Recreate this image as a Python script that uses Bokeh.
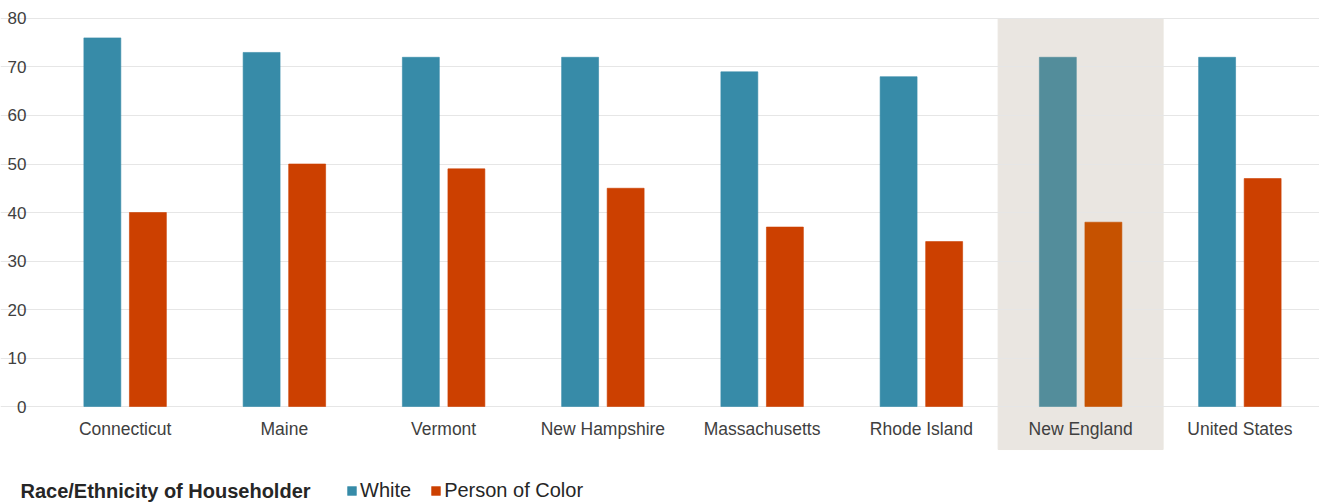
from bokeh.plotting import figure
from bokeh.models import ColumnDataSource, Range1d, Legend, LegendItem, Label, FixedTicker
from bokeh.transform import dodge
from bokeh.embed import file_html
from bokeh.resources import INLINE

# ---- data ----
regions = ["Connecticut", "Maine", "Vermont", "New Hampshire", "Massachusetts",
           "Rhode Island", "New England", "United States"]
white = [76, 73, 72, 72, 69, 68, 72, 72]
person_of_color = [40, 50, 49, 45, 37, 34, 38, 47]
y_ticks = [0, 10, 20, 30, 40, 50, 60, 70, 80]
highlight = "New England"
legend_title = "Race/Ethnicity of Householder"

# ---- styles ----
WHITE_C, WHITE_HL = "#378BA8", "#538D9B"
POC_C, POC_HL = "#CC4000", "#C65200"
SHADE = "#EAE6E1"
TEXT = "#404040"
FONT = "Liberation Sans"

# category slots: each region occupies one unit, centred at index + 0.5
pos = [i + 0.5 for i in range(len(regions))]
src = ColumnDataSource(dict(
    region=regions,
    pos=pos,
    white=white,
    poc=person_of_color,
    wcol=[WHITE_HL if r == highlight else WHITE_C for r in regions],
    pcol=[POC_HL if r == highlight else POC_C for r in regions],
))

W, H = 1319, 502
left_px = 45
x_end = len(regions)
x_start = -left_px * x_end / (W - left_px)
y_top, y_bottom = 83.71, -19.79
band_bottom = -8.87

p = figure(width=W, height=H, x_range=Range1d(x_start, x_end),
           y_range=Range1d(y_bottom, y_top), output_backend="svg", toolbar_location=None,
           min_border_left=0, min_border_right=0, min_border_top=0, min_border_bottom=0)

# highlight band
hl_src = ColumnDataSource(dict(pos=[pos[regions.index(highlight)]]))
p.vbar(x="pos", top=y_ticks[-1], bottom=band_bottom, width=1.036, color=SHADE,
       level="image", source=hl_src)

w = p.vbar(x=dodge("pos", -0.143), top="white", width=0.232, source=src,
           fill_color="wcol", line_color="wcol", line_alpha=0.6)
c = p.vbar(x=dodge("pos", 0.143), top="poc", width=0.232, source=src,
           fill_color="pcol", line_color="pcol", line_alpha=0.6)

p.outline_line_color = None
p.xgrid.grid_line_color = None
p.ygrid.grid_line_color = "#E6E6E6"
p.ygrid.ticker = y_ticks
p.ygrid.bounds = (0, x_end)

p.yaxis.fixed_location = 0
p.yaxis.ticker = y_ticks
p.yaxis.axis_line_color = None
p.yaxis.major_tick_line_color = None
p.yaxis.minor_tick_line_color = None
p.yaxis.major_label_standoff = 13
p.yaxis.major_label_text_font = FONT
p.yaxis.major_label_text_font_size = "17px"
p.yaxis.major_label_text_color = TEXT

p.xaxis.fixed_location = 0
p.xaxis.ticker = FixedTicker(ticks=pos)
p.xaxis.major_label_overrides = {x: r for x, r in zip(pos, regions)}
p.xaxis.axis_line_color = None
p.xaxis.major_tick_line_color = None
p.xaxis.minor_tick_line_color = None
p.xaxis.major_label_standoff = 6
p.xaxis.major_label_text_font = FONT
p.xaxis.major_label_text_font_size = "17.5px"
p.xaxis.major_label_text_color = TEXT

legend = Legend(items=[LegendItem(label="White", renderers=[w], index=0),
                       LegendItem(label="Person of Color", renderers=[c], index=0)],
                orientation="horizontal",
                label_text_font=FONT, label_text_font_size="20px", label_text_color="#262626",
                glyph_width=11, glyph_height=11, label_standoff=3, spacing=19,
                border_line_color=None, background_fill_alpha=0, padding=0, margin=0,
                location=(346, 0))
p.add_layout(legend, "center")

p.add_layout(Label(x=20, y=1, x_units="screen", y_units="screen", text=legend_title,
                   text_font=FONT, text_font_size="20px", text_font_style="bold",
                   text_color="#262626", text_baseline="bottom"))

open("out.html", "w").write(file_html(p, INLINE))
